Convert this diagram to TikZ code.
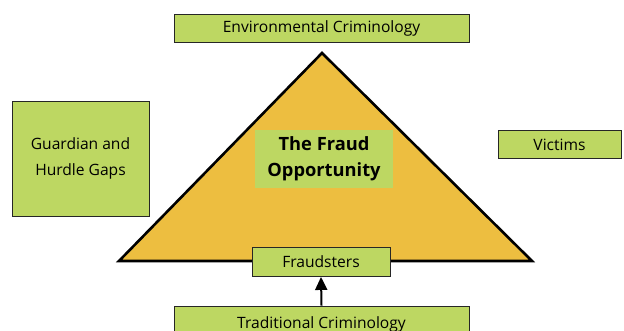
\documentclass[tikz,border=0pt]{standalone}
\usepackage{fontspec}
\setmainfont{Open Sans}
\usetikzlibrary{arrows.meta}
\definecolor{boxgreen}{RGB}{189,215,98}
\definecolor{triorange}{RGB}{237,190,64}
\tikzset{
  gbox/.style={draw=black!85, line width=0.9pt, fill=boxgreen, inner sep=0pt, align=center, font=\fontsize{15.6}{26}\selectfont},
}
\begin{document}
\begin{tikzpicture}[x=1pt,y=-1pt]
\useasboundingbox (0,0) rectangle (624,331);
\clip (0,0) rectangle (624,331);
\fill[white] (0,0) rectangle (624,331);
% triangle
\coordinate (apex) at (322,53);
\coordinate (bl) at (119,261);
\coordinate (br) at (532,261);
\draw[fill=triorange, line width=2.6pt, line join=miter] (apex) -- (br) -- (bl) -- cycle;
% boxes
\node[gbox, minimum width=295pt, minimum height=28pt] (env) at (321.5,28) {Environmental Criminology};
\node[gbox, minimum width=137pt, minimum height=115pt] (guard) at (80.5,158.5) {Guardian and\\Hurdle Gaps};
\node[gbox, minimum width=123pt, minimum height=28pt] (vict) at (559.5,144.5) {Victims};
\node[fill=boxgreen, inner sep=0pt, minimum width=138pt, minimum height=58pt, align=center, font=\fontsize{18.3}{26}\selectfont\bfseries] (opp) at (324,159) {The Fraud\\Opportunity};
\node[gbox, minimum width=138pt, minimum height=29pt] (fraud) at (321,262) {Fraudsters};
\node[gbox, minimum width=295pt, minimum height=40pt, text depth=0pt] (trad) at (321.5,326) {\raisebox{7.5pt}{Traditional Criminology}};
% arrow
\draw[line width=2pt, -{Triangle[length=13pt,width=12pt]}] (trad.north) -- (fraud.south);
\end{tikzpicture}
\end{document}
